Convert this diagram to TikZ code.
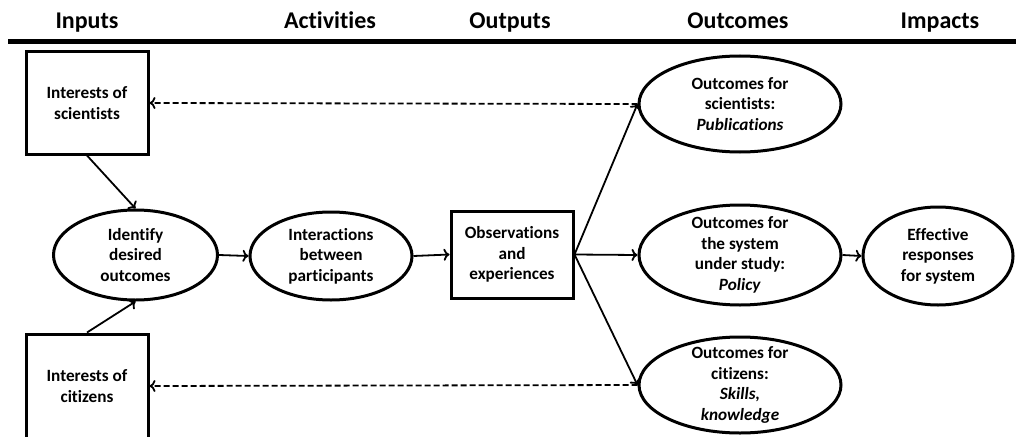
\documentclass[tikz,border=0pt]{standalone}
\usepackage{fontspec}
\setmainfont{Carlito}[Ligatures={NoCommon,NoContextual}]
\usetikzlibrary{shapes.geometric,arrows.meta}
\begin{document}
\begin{tikzpicture}[x=1pt,y=-1pt,
  every node/.style={font=\fontsize{17.2}{20.5}\selectfont\bfseries, align=center},
  hdr/.style={font=\fontsize{24}{28}\selectfont\bfseries, anchor=base},
  boxnode/.style={draw, line width=3pt, minimum width=122pt, inner sep=0pt},
  ellnode/.style={draw, ellipse, line width=3pt, inner sep=-14pt},
  conn/.style={line width=1.8pt, -{To[length=6pt,width=12pt,line width=1.8pt]}},
  dconn/.style={conn, dash pattern=on 6pt off 3pt}
]
\useasboundingbox (0,0) rectangle (1016,436);
\begin{scope}
\clip (0,0) rectangle (1016,436);
% headers
\node[hdr] (hIn) at (87,29) {Inputs};
\node[hdr] (hAc) at (330,29) {Activities};
\node[hdr] (hOu) at (510,29) {Outputs};
\node[hdr] (hOc) at (738,29) {Outcomes};
\node[hdr] (hIm) at (940,29) {Impacts};
\coordinate (ruleL) at (8,41.5);
\coordinate (ruleR) at (1016,41.5);
\draw[line width=4.5pt] (ruleL) -- (ruleR);

% nodes
\node[boxnode, minimum height=102pt] (sci) at (87,103) {Interests of\\scientists};
\node[boxnode, minimum height=104pt] (cit) at (87,386) {Interests of\\citizens};
\node[ellnode, minimum width=164pt, minimum height=90pt] (ident) at (135.5,255) {Identify\\desired\\outcomes};
\node[ellnode, minimum width=162pt, minimum height=88pt] (inter) at (331,256) {Interactions\\between\\participants};
\node[boxnode, minimum height=87pt] (obs) at (512,254.5) {Observations\\and\\experiences};
\node[ellnode, minimum width=202pt, minimum height=96pt] (osci) at (740,104) {Outcomes for\\scientists:\\\textit{Publications}};
\node[ellnode, minimum width=202pt, minimum height=100pt] (osys) at (740,255) {Outcomes for\\the system\\under study:\\\textit{Policy}};
\node[ellnode, minimum width=150pt, minimum height=98pt] (eff) at (938,256) {Effective\\responses\\for system};
\node[ellnode, minimum width=202pt, minimum height=96pt] (ocit) at (740,385) {Outcomes for\\citizens:\\\textit{Skills,}\\\textit{knowledge}};

% connectors
\draw[conn] (sci.south) -- (ident.north);
\draw[conn] (cit.north) -- (ident.south);
\draw[conn] (ident.east) -- (inter.west);
\draw[conn] (inter.east) -- (obs.west);
\draw[conn] (obs.east) -- (osys.west);
\draw[conn] (obs.east) -- (osci.west);
\draw[conn] (obs.east) -- (ocit.west);
\draw[conn] (osys.east) -- (eff.west);
\draw[dconn] (osci.west) -- (sci.east);
\draw[dconn] (ocit.west) -- (cit.east);
\end{scope}
\end{tikzpicture}
\end{document}
